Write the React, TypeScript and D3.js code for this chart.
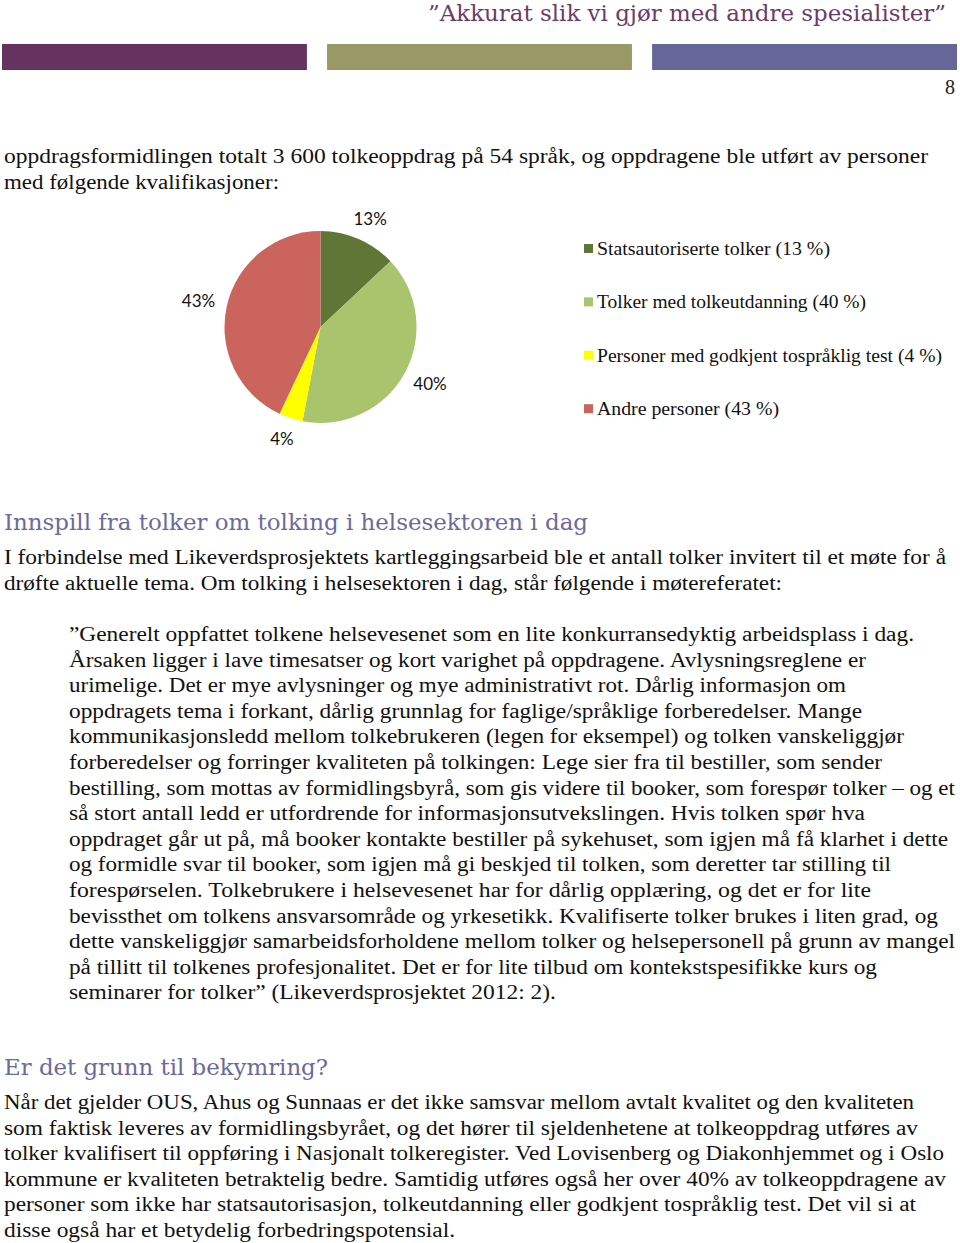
import React from "react";
import * as d3 from "d3";

// Pie data
const categories = [
  "Statsautoriserte tolker",
  "Tolker med tolkeutdanning",
  "Personer med godkjent tospråklig test",
  "Andre personer",
];
const shares = [13, 40, 4, 43];
const colors = ["#5f7636", "#a9c46c", "#ffff00", "#cc645e"];

// Page text
const headerTitle = "”Akkurat slik vi gjør med andre spesialister”";
const pageNumber = "8";
const introLines = [
  "oppdragsformidlingen totalt 3 600 tolkeoppdrag på 54 språk, og oppdragene ble utført av personer",
  "med følgende kvalifikasjoner:",
];
const heading1 = "Innspill fra tolker om tolking i helsesektoren i dag";
const para1Lines = [
  "I forbindelse med Likeverdsprosjektets kartleggingsarbeid ble et antall tolker invitert til et møte for å",
  "drøfte aktuelle tema. Om tolking i helsesektoren i dag, står følgende i møtereferatet:",
];
const quoteLines = [
  "”Generelt oppfattet tolkene helsevesenet som en lite konkurransedyktig arbeidsplass i dag.",
  "Årsaken ligger i lave timesatser og kort varighet på oppdragene. Avlysningsreglene er",
  "urimelige. Det er mye avlysninger og mye administrativt rot. Dårlig informasjon om",
  "oppdragets tema i forkant, dårlig grunnlag for faglige/språklige forberedelser. Mange",
  "kommunikasjonsledd mellom tolkebrukeren (legen for eksempel) og tolken vanskeliggjør",
  "forberedelser og forringer kvaliteten på tolkingen: Lege sier fra til bestiller, som sender",
  "bestilling, som mottas av formidlingsbyrå, som gis videre til booker, som forespør tolker – og et",
  "så stort antall ledd er utfordrende for informasjonsutvekslingen. Hvis tolken spør hva",
  "oppdraget går ut på, må booker kontakte bestiller på sykehuset, som igjen må få klarhet i dette",
  "og formidle svar til booker, som igjen må gi beskjed til tolken, som deretter tar stilling til",
  "forespørselen. Tolkebrukere i helsevesenet har for dårlig opplæring, og det er for lite",
  "bevissthet om tolkens ansvarsområde og yrkesetikk. Kvalifiserte tolker brukes i liten grad, og",
  "dette vanskeliggjør samarbeidsforholdene mellom tolker og helsepersonell på grunn av mangel",
  "på tillitt til tolkenes profesjonalitet. Det er for lite tilbud om kontekstspesifikke kurs og",
  "seminarer for tolker” (Likeverdsprosjektet 2012: 2).",
];
const heading2 = "Er det grunn til bekymring?";
const para2Lines = [
  "Når det gjelder OUS, Ahus og Sunnaas er det ikke samsvar mellom avtalt kvalitet og den kvaliteten",
  "som faktisk leveres av formidlingsbyrået, og det hører til sjeldenhetene at tolkeoppdrag utføres av",
  "tolker kvalifisert til oppføring i Nasjonalt tolkeregister. Ved Lovisenberg og Diakonhjemmet og i Oslo",
  "kommune er kvaliteten betraktelig bedre. Samtidig utføres også her over 40% av tolkeoppdragene av",
  "personer som ikke har statsautorisasjon, tolkeutdanning eller godkjent tospråklig test. Det vil si at",
  "disse også har et betydelig forbedringspotensial.",
];

// layout: right end of each line
const introEnds = [928, 279];
const para1Ends = [946, 782];
const quoteEnds = [914, 866, 846, 862, 904, 882, 955, 865, 948, 891, 871, 938, 955, 877, 556];
const para2Ends = [914, 918, 944, 946, 916, 455];
const legendEnds = [830, 866, 942, 779];

const W = 960;
const H = 1243;
const BODY_FONT = "'Liberation Serif', 'DejaVu Serif', serif";
const SLAB_FONT = "'DejaVu Serif', serif";
const LINE = 25.6;

function TextBlock({ lines, ends, x, y }: { lines: string[]; ends: number[]; x: number; y: number }) {
  return (
    <g fontFamily={BODY_FONT} fontSize={20} fill="#111">
      {lines.map((t, i) => (
        <text
          key={i}
          x={x}
          y={y + i * LINE}
          textLength={ends[i] - x}
          lengthAdjust="spacingAndGlyphs"
        >
          {t}
        </text>
      ))}
    </g>
  );
}

function Pie() {
  const cx = 320.5;
  const cy = 327;
  const r = 96;
  const data = shares.map((v, i) => ({ name: categories[i], value: v, color: colors[i] }));
  const pie = d3
    .pie<{ name: string; value: number; color: string }>()
    .sort(null)
    .value((d) => d.value);
  const arcs = pie(data);
  const arc = d3
    .arc<d3.PieArcDatum<{ name: string; value: number; color: string }>>()
    .innerRadius(0)
    .outerRadius(r);

  const labelR = r + 12;
  const lw = 34;
  const lh = 17;

  return (
    <g>
      <g transform={`translate(${cx},${cy})`}>
        {arcs.map((a, i) => (
          <path key={i} d={arc(a) || ""} fill={a.data.color} />
        ))}
        {arcs.map((a, i) => {
          const m = (a.startAngle + a.endAngle) / 2;
          const px = labelR * Math.sin(m);
          const py = -labelR * Math.cos(m);
          const lx = px + (Math.sin(m) * lw) / 2;
          const ly = py - ((Math.cos(m) * lh) / 2) * 1.2;
          return (
            <text
              key={i}
              x={lx}
              y={ly + 6}
              textAnchor="middle"
              fontFamily="Lato, 'Liberation Sans', sans-serif"
              fontSize={17}
              fill="#111"
            >
              {a.data.value}%
            </text>
          );
        })}
      </g>
      <g fontFamily={BODY_FONT} fontSize={19} fill="#111">
        {data.map((d, i) => {
          const y = 249 + i * 53.4;
          return (
            <g key={i}>
              <rect x={584} y={y - 5} width={9} height={9} fill={d.color} />
              <text x={597} y={y + 6} textLength={legendEnds[i] - 597} lengthAdjust="spacingAndGlyphs">
                {`${d.name} (${d.value} %)`}
              </text>
            </g>
          );
        })}
      </g>
    </g>
  );
}

export default function App() {
  React.useEffect(() => {
    document.body.style.margin = "0";
  }, []);
  const bandColors = ["#663361", "#999966", "#666699"];
  const band = d3.scaleBand<number>().domain([0, 1, 2]).range([2, 957]).paddingInner(0.062);

  return (
    <svg width={W} height={H} viewBox={`0 0 ${W} ${H}`} style={{ display: "block", background: "#fff" }}>
      {/* header */}
      <text
        x={946}
        y={21}
        textAnchor="end"
        fontFamily={SLAB_FONT}
        fontSize={22}
        fill="#6b3c69"
        textLength={518}
        lengthAdjust="spacingAndGlyphs"
      >
        {headerTitle}
      </text>
      {bandColors.map((c, i) => (
        <rect key={i} x={band(i)} y={44} width={band.bandwidth()} height={26} fill={c} />
      ))}
      <text x={950} y={94} textAnchor="middle" fontFamily={BODY_FONT} fontSize={20} fill="#222">
        {pageNumber}
      </text>

      <TextBlock lines={introLines} ends={introEnds} x={4} y={163} />

      <Pie />

      <text
        x={4}
        y={530}
        fontFamily={SLAB_FONT}
        fontSize={22}
        fill="#6a6a9c"
        textLength={584}
        lengthAdjust="spacingAndGlyphs"
      >
        {heading1}
      </text>
      <TextBlock lines={para1Lines} ends={para1Ends} x={4} y={564} />
      <TextBlock lines={quoteLines} ends={quoteEnds} x={69} y={641} />

      <text
        x={4}
        y={1075}
        fontFamily={SLAB_FONT}
        fontSize={22}
        fill="#6a6a9c"
        textLength={324}
        lengthAdjust="spacingAndGlyphs"
      >
        {heading2}
      </text>
      <TextBlock lines={para2Lines} ends={para2Ends} x={4} y={1109} />
    </svg>
  );
}
